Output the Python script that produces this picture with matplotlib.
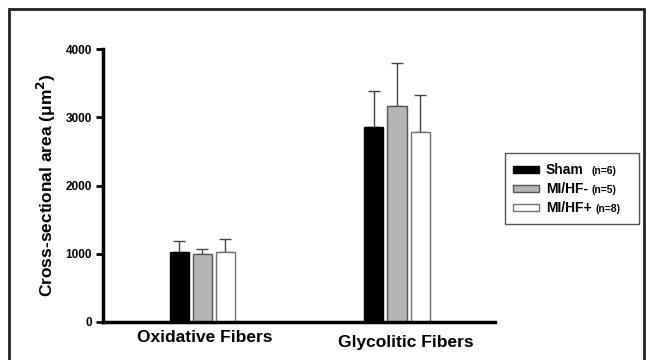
import numpy as np
import matplotlib.pyplot as plt
from matplotlib.patches import Rectangle

plt.rcParams['font.family'] = ['Liberation Sans', 'DejaVu Sans']
plt.rcParams['font.weight'] = 'bold'

# fiber types and group means / SD
fibers = ['Oxidative Fibers', 'Glycolitic Fibers']
groups = ['Sham', 'MI/HF-', 'MI/HF+']
group_n = ['(n=6)', '(n=5)', '(n=8)']
means = {
    'Sham':   [1025, 2850],
    'MI/HF-': [1000, 3170],
    'MI/HF+': [1020, 2780],
}
sds = {
    'Sham':   [165, 530],
    'MI/HF-': [75, 630],
    'MI/HF+': [190, 550],
}
fills = ['black', '#b4b4b4', 'white']
edges = ['black', '#555555', '#707070']

fig = plt.figure(figsize=(6.47, 3.6), dpi=100)
ax = fig.add_axes([103 / 647, 38 / 360, 392 / 647, 273 / 360])

centers = np.array([0.2526, 0.75])
width = 0.0485
step = 0.0587
for i, g in enumerate(groups):
    x = centers + (i - 1) * step
    ax.bar(x, means[g], width, color=fills[i], edgecolor=edges[i], linewidth=1, zorder=2)
    ax.errorbar(x, means[g], yerr=[np.zeros(2), sds[g]], fmt='none', ecolor='#444444',
                elinewidth=1, capsize=4, capthick=1, zorder=1)

ax.set_xlim(0, 1)
ax.set_ylim(0, 4000)
ax.set_yticks([0, 1000, 2000, 3000, 4000])
ax.tick_params(axis='y', direction='out', length=5, width=2, labelsize=8.5, pad=3)
ax.set_xticks([])
for lbl in ax.get_yticklabels():
    lbl.set_fontweight('bold')
for side in ['top', 'right']:
    ax.spines[side].set_visible(False)
for side in ['left', 'bottom']:
    ax.spines[side].set_linewidth(2.5)

ax.set_ylabel('Cross-sectional area (μm$^\\mathbf{2}$)', fontsize=12.5, fontweight='bold', labelpad=5)

# category labels under the axis
ax.text(centers[0] + 0.008, -0.055, fibers[0], transform=ax.get_xaxis_transform(),
        ha='center', va='center', fontsize=12.5, fontweight='bold')
ax.text(centers[1] + 0.023, -0.075, fibers[1], transform=ax.get_xaxis_transform(),
        ha='center', va='center', fontsize=12.5, fontweight='bold')

# legend box, built by hand for the two font sizes
ft = fig.transFigure
W, H = 647, 360
fig.patches.append(Rectangle((505 / W, 1 - 224 / H), 134 / W, 71 / H, transform=ft,
                             facecolor='white', edgecolor='#555555', linewidth=1))
rows_y = [170, 189, 208]
for i, g in enumerate(groups):
    yc = 1 - rows_y[i] / H
    fig.patches.append(Rectangle((513 / W, yc - 3 / H), 26 / W, 7 / H, transform=ft,
                                 facecolor=fills[i], edgecolor=edges[i], linewidth=1))
    fig.text(546 / W, yc, g, transform=ft, ha='left', va='center',
             fontsize=10, fontweight='bold')
    fig.text([591, 592, 595][i] / W, yc - 1 / H, group_n[i], transform=ft, ha='left', va='center',
             fontsize=7.5, fontweight='bold')

# outer frame
fig.patches.append(Rectangle((9 / W, -0.05), 635 / W, 1.05 - 9 / H, transform=ft,
                             facecolor='none', edgecolor='#222222', linewidth=2))

fig.savefig('out.png', dpi=100)
